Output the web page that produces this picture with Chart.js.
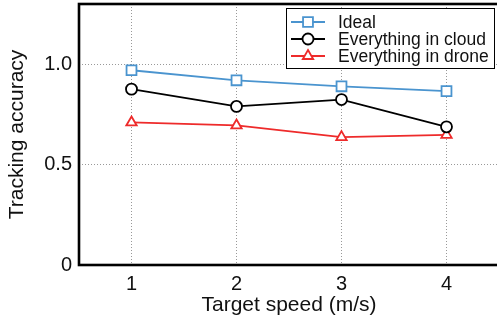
<!DOCTYPE html>
<html>
<head>
<meta charset="utf-8">
<script src="https://cdn.jsdelivr.net/npm/chart.js@4/dist/chart.umd.min.js"></script>
<style>
  html, body { margin: 0; padding: 0; background: #fff; overflow: hidden; }
  #wrap { width: 497px; height: 322px; overflow: hidden; }
</style>
</head>
<body>
<div id="wrap"><canvas id="trackChart" width="502" height="322"></canvas></div>
<script>
// data
const speeds = ['1', '2', '3', '4'];
const idealAcc = [0.97, 0.92, 0.89, 0.866];
const cloudAcc = [0.876, 0.79, 0.824, 0.688];
const droneAcc = [0.71, 0.695, 0.637, 0.648];
const yTicks = [0, 0.5, 1.0];
const yTickLabels = ['0', '0.5', '1.0'];

const FONT = "'Liberation Sans', Arial, sans-serif";

function drawMarker(ctx, style, x, y, r) {
    ctx.beginPath();
    if (style === 'rect') {
        const s = r * Math.SQRT1_2;
        ctx.rect(x - s, y - s, 2 * s, 2 * s);
    } else if (style === 'triangle') {
        const w = r * Math.sqrt(3) / 2;
        ctx.moveTo(x, y - r);
        ctx.lineTo(x + w, y + r / 2);
        ctx.lineTo(x - w, y + r / 2);
        ctx.closePath();
    } else {
        ctx.arc(x, y, r, 0, Math.PI * 2);
    }
    ctx.fill();
    ctx.stroke();
}

// no extra room for half labels, the frame sits at fixed places
function fixPadding(scale) {
    scale.paddingTop = 0;
    scale.paddingBottom = 0;
    scale.paddingLeft = 0;
    scale.paddingRight = 0;
}

// thick frame round the plot plus the boxed legend inside it
const framePlugin = {
    id: 'frameAndLegend',
    afterDraw(chart) {
        const ctx = chart.ctx;
        const a = chart.chartArea;
        ctx.save();
        ctx.strokeStyle = '#000';
        ctx.lineWidth = 2.6;
        ctx.strokeRect(a.left, a.top, a.right - a.left, a.bottom - a.top);

        // legend box
        const bx = 286.5, by = 8.5, bw = 208, bh = 60;
        ctx.fillStyle = '#fff';
        ctx.fillRect(bx, by, bw, bh);
        ctx.lineWidth = 1;
        ctx.strokeRect(bx, by, bw, bh);

        ctx.font = '17.5px ' + FONT;
        ctx.textBaseline = 'middle';
        chart.data.datasets.forEach((ds, i) => {
            const y = 22 + i * 17;
            ctx.strokeStyle = ds.borderColor;
            ctx.lineWidth = ds.borderWidth;
            ctx.beginPath();
            ctx.moveTo(291, y);
            ctx.lineTo(325, y);
            ctx.stroke();
            ctx.fillStyle = '#fff';
            ctx.lineWidth = ds.pointBorderWidth;
            drawMarker(ctx, ds.pointStyle, 308, y, ds.pointRadius);
            ctx.fillStyle = '#111';
            ctx.fillText(ds.label, 338, y + 1);
        });
        ctx.restore();
    }
};

const ctx = document.getElementById('trackChart').getContext('2d');

const chart = new Chart(ctx, {
    type: 'line',
    data: {
        labels: speeds,
        datasets: [{
            label: 'Ideal',
            data: idealAcc,
            borderColor: '#4a94cf',
            backgroundColor: '#fff',
            borderWidth: 1.8,
            pointStyle: 'rect',
            pointRadius: 7,
            pointBorderWidth: 1.8,
            pointBackgroundColor: '#fff',
            tension: 0
        }, {
            label: 'Everything in cloud',
            data: cloudAcc,
            borderColor: '#000',
            backgroundColor: '#fff',
            borderWidth: 1.8,
            pointStyle: 'circle',
            pointRadius: 5.5,
            pointBorderWidth: 1.8,
            pointBackgroundColor: '#fff',
            tension: 0
        }, {
            label: 'Everything in drone',
            data: droneAcc,
            borderColor: '#ee2b2b',
            backgroundColor: '#fff',
            borderWidth: 1.8,
            pointStyle: 'triangle',
            pointRadius: 6,
            pointBorderWidth: 1.8,
            pointBackgroundColor: '#fff',
            tension: 0
        }]
    },
    options: {
        responsive: false,
        animation: false,
        events: [],
        layout: { autoPadding: false, padding: { top: 4, right: 3, left: 0, bottom: 0 } },
        plugins: {
            legend: { display: false },
            tooltip: { enabled: false }
        },
        scales: {
            x: {
                type: 'category',
                offset: true,
                grid: { offset: false, color: '#999', lineWidth: 1, drawTicks: false },
                border: { display: false, dash: [1, 2] },
                ticks: { color: '#111', padding: 7, font: { family: FONT, size: 20 } },
                title: {
                    display: true,
                    text: 'Target speed (m/s)',
                    color: '#111',
                    padding: { top: 0, bottom: 4 },
                    font: { family: FONT, size: 21 }
                },
                afterFit(scale) { scale.height = 57; fixPadding(scale); }
            },
            y: {
                min: 0,
                max: 1.3,
                grid: { color: '#999', lineWidth: 1, drawTicks: false },
                border: { display: false, dash: [1, 2] },
                afterBuildTicks(scale) {
                    scale.ticks = yTicks.map(v => ({ value: v }));
                },
                ticks: {
                    color: '#111',
                    padding: 7,
                    font: { family: FONT, size: 20 },
                    callback: function(value) {
                        const i = yTicks.indexOf(value);
                        return i >= 0 ? yTickLabels[i] : '';
                    }
                },
                title: {
                    display: true,
                    text: 'Tracking accuracy',
                    color: '#111',
                    padding: { top: 5, bottom: 0 },
                    font: { family: FONT, size: 21 }
                },
                afterFit(scale) { scale.width = 79; fixPadding(scale); }
            }
        }
    },
    plugins: [framePlugin]
});
</script>
</body>
</html>
